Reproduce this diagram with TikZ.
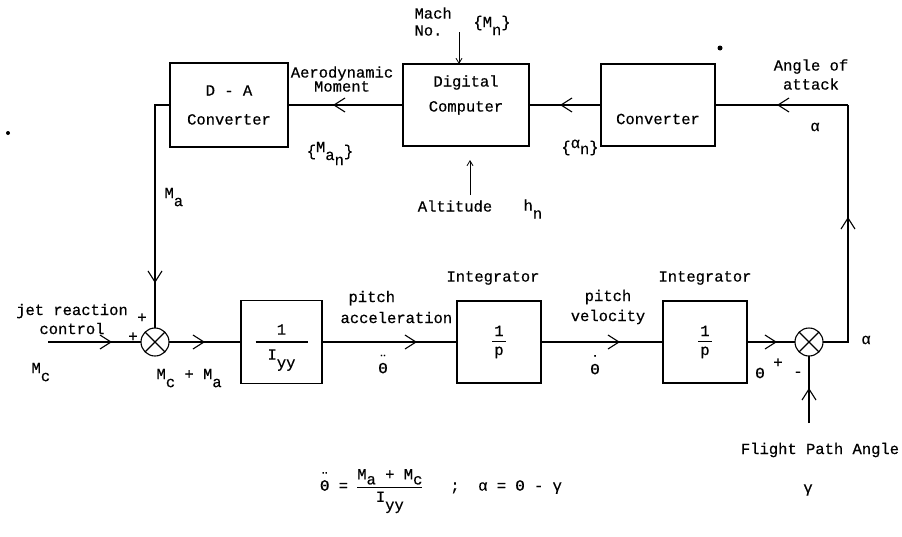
\documentclass[tikz,border=0pt]{standalone}
\usepackage{fontspec}
\setmainfont{Liberation Mono}[FakeBold=0.5]
\usetikzlibrary{positioning,arrows.meta,decorations.markings}

\newcommand{\shft}[2]{\smash{\raisebox{#1}{#2}}}
\newcommand{\lwr}[2][8pt]{\shft{-#1}{#2}}
\newcommand{\thdd}{\ooalign{Θ\cr\hidewidth\raisebox{0.5em}{¨}\hidewidth\cr}}
\newcommand{\thd}{\ooalign{Θ\cr\hidewidth\raisebox{0.5em}{˙}\hidewidth\cr}}

\begin{document}
\begin{tikzpicture}[x=1pt, y=-1pt, line width=1.1pt,
  font=\fontsize{15.5}{18}\selectfont,
  blk/.style={draw, rectangle, inner sep=0pt, outer sep=0pt, align=center},
  sum/.style={draw, circle, minimum size=28pt, inner sep=0pt, outer sep=0pt},
  lbl/.style={inner sep=0pt, align=center},
  midarr/.style={postaction={decorate}, decoration={markings,
    mark=at position #1 with {\arrow{Straight Barb[length=11pt, width=14pt]}}}},
  tarr/.style={line width=0.8pt, -{Straight Barb[length=5pt, width=6pt]}}]
  \useasboundingbox (0,0) rectangle (902,536);

  % top row
  \node[blk, minimum width=118pt, minimum height=84pt] (da) at (229,105) {D - A\\[11pt]Converter};
  \node[blk, minimum width=126pt, minimum height=82pt, right=115pt of da,
    label={[lbl, yshift=10pt]center:{Digital\\[7pt]Computer}}] (comp) {};
  \node[blk, minimum width=114pt, minimum height=82pt, right=72pt of comp,
    label={[lbl, yshift=-14pt]center:Converter}] (conv) {};

  % bottom row
  \node[sum] (s1) at (155,342) {};
  \node[blk, minimum width=81pt, minimum height=83pt, right=72pt of s1] (inv) {1\\[-10pt]\rule{52pt}{1.2pt}\\[-1pt]I\lwr{yy}};
  \node[blk, minimum width=84pt, minimum height=82pt, right=135pt of inv] (int1) {1\\[-12pt]\rule{14pt}{1.2pt}\\[-5pt]p};
  \node[blk, minimum width=84pt, minimum height=82pt, right=122pt of int1] (int2) {1\\[-12pt]\rule{14pt}{1.2pt}\\[-5pt]p};
  \node[sum, right=48pt of int2] (s2) {};
  \foreach \s in {s1,s2}
    \draw (\s.45) -- (\s.225) (\s.135) -- (\s.315);

  \coordinate (mc) at (48,342);
  \coordinate (fbr) at (848,342);
  \coordinate (fbt) at (848,105);
  \coordinate (fp) at (809,423);
  \coordinate (mach) at (459,32);
  \coordinate (alt) at (470,195);

  % connectors
  \draw[midarr=64pt] (mc) -- (s1);
  \draw[midarr=36pt] (s1) -- (inv);
  \draw[midarr=95pt] (inv) -- (int1);
  \draw[midarr=79pt] (int1) -- (int2);
  \draw[midarr=30pt] (int2) -- (s2);
  \draw[midarr=35pt] (fp) -- (s2);
  \draw[midarr=150pt] (s2) -- (fbr) -- (fbt);
  \draw[midarr=71pt] (fbt) -- (conv);
  \draw[midarr=41pt] (conv) -- (comp);
  \draw[midarr=70pt] (comp) -- (da);
  \draw[midarr=193pt] (da) -| (s1);
  \draw[tarr] (mach) -- (mach |- comp.north);
  \draw[tarr, shorten >=14pt] (alt) -- (alt |- comp.south);

  % labels
  \node[lbl] (aero) at (342,79) {Aerodynamic\\[-4pt]Moment};
  \node[lbl] (man) at (330,152) {\{\shft{4pt}{M}\lwr[4pt]{a}\lwr[9pt]{n}\}};
  \node[lbl, align=left, anchor=west] (machl) at (414,21.5) {Mach\\[-1pt]No.};
  \node[lbl] (mn) at (492,23) {\{M\lwr{n}\}};
  \node[lbl] (altl) at (455,206) {Altitude};
  \node[lbl, anchor=west] (hn) at (523,205) {h\lwr{n}};
  \node[lbl] (alphan) at (580,148) {\{\shft{4pt}{α}\lwr[2pt]{n}\}};
  \node[lbl] (angle) at (811,74.5) {Angle of\\[1pt]attack};
  \node[lbl] (al1) at (815,127) {α};
  \node[lbl, anchor=west] (mal) at (164,193) {M\lwr{a}};
  \node[lbl] (jet) at (72,319) {jet reaction\\[1pt]control};
  \node[lbl] (pl1) at (142,318) {+};
  \node[lbl] (pl2) at (133,337) {+};
  \node[lbl, anchor=west] (mcl) at (31,368) {M\lwr{c}};
  \node[lbl, anchor=west] (mcma) at (156,374) {M\lwr{c} + M\lwr{a}};
  \node[lbl, align=left, anchor=west] (pacc) at (340,307) {\hspace{8pt}pitch\\[3pt]acceleration};
  \node[lbl] (thdd1) at (383,368) {\thdd};
  \node[lbl] (int1l) at (493,278) {Integrator};
  \node[lbl] (pvel) at (608,307) {pitch\\[2pt]velocity};
  \node[lbl] (thd1) at (595,369) {\thd};
  \node[lbl] (int2l) at (705,278) {Integrator};
  \node[lbl] (th) at (760,373) {Θ};
  \node[lbl] (pl3) at (778,363) {+};
  \node[lbl] (mi) at (798,374) {-};
  \node[lbl] (al2) at (866,340) {α};
  \node[lbl] (fpa) at (820,450) {Flight Path Angle};
  \node[lbl] (gam) at (808,490) {γ};
  \node[lbl] (frm) at (441,487) {\setlength\arrayrulewidth{1pt}\thdd\ = \begin{tabular}{@{}c@{}}M\lwr[5pt]{a} + M\lwr[5pt]{c}\\[2pt]\hline\rule{0pt}{14pt}I\lwr{yy}\end{tabular}\ \ \ ;\ \ α = Θ - γ};

  % specks
  \fill (8,133) circle (2pt);
  \fill (720,48) circle (2.5pt);
\end{tikzpicture}
\end{document}
